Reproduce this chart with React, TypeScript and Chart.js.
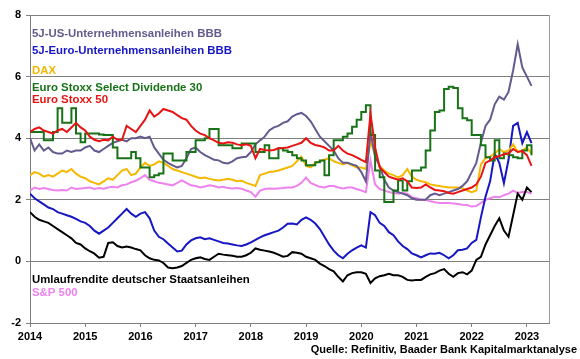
import React, { useEffect, useRef } from "react";
import { Chart, registerables } from "chart.js";
Chart.register(...registerables);

const START_YEAR = 2014;
const X_MIN = 2014;
const X_MAX = 2023.4;
const Y_MIN = -2;
const Y_MAX = 8;

// monthly values, Jan 2014 .. Feb 2023
const usBBB = [
  4.0, 3.6, 3.8, 3.6, 3.7, 3.55, 3.5, 3.5, 3.6, 3.55, 3.6, 3.6,
  3.7, 3.75, 3.6, 3.55, 3.65, 3.75, 3.85, 3.9, 3.95, 3.9, 4.0, 4.0,
  4.05, 4.0, 4.05, 3.7, 3.5, 3.3, 3.2, 3.12, 3.05, 3.1, 3.35, 3.65,
  3.7, 3.55, 3.45, 3.38, 3.3, 3.28, 3.2, 3.18, 3.25, 3.35, 3.38, 3.4,
  3.55, 3.8, 3.93, 4.05, 4.25, 4.35, 4.4, 4.5, 4.55, 4.7, 4.78, 4.82,
  4.72, 4.55, 4.3, 4.05, 3.9, 3.75, 3.6, 3.35, 3.2, 3.2, 3.15, 3.1,
  2.9, 2.6, 4.2, 3.4, 3.1, 2.65, 2.4, 2.3, 2.25, 2.2, 2.15, 2.05,
  2.0, 2.0, 2.0, 2.15, 2.2, 2.15, 2.2, 2.25, 2.3, 2.35, 2.45, 2.6,
  2.9, 3.2, 3.85, 4.4, 4.6, 5.1, 5.35, 5.25, 5.5, 6.2, 7.05, 6.3,
  6.0, 5.7,
];
const euroBBB = [
  2.2, 2.05, 1.95, 1.85, 1.75, 1.7, 1.6, 1.55, 1.5, 1.45, 1.38, 1.3,
  1.25, 1.15, 1.0, 0.9, 1.0, 1.1, 1.25, 1.4, 1.55, 1.7, 1.55, 1.45,
  1.55, 1.6, 1.4, 1.0, 0.8, 0.72, 0.58, 0.45, 0.32, 0.35, 0.55, 0.68,
  0.75, 0.78, 0.72, 0.75, 0.7, 0.65, 0.6, 0.58, 0.55, 0.52, 0.5, 0.55,
  0.62, 0.7, 0.78, 0.85, 0.9, 0.95, 1.0, 1.1, 1.22, 1.23, 1.2, 1.35,
  1.43, 1.35, 1.23, 1.05, 0.8, 0.55, 0.35, 0.2, 0.1, 0.25, 0.36, 0.45,
  0.52, 0.45, 1.6, 1.5, 1.25, 1.15, 0.95, 0.85, 0.65, 0.5, 0.4, 0.26,
  0.2, 0.13, 0.2, 0.26, 0.25, 0.28, 0.2, 0.1, 0.2, 0.36, 0.38, 0.42,
  0.6, 0.7, 1.43, 2.1, 2.6, 3.5, 3.2, 2.54, 3.3, 4.4, 4.5, 3.84,
  4.2, 3.84,
];
const dax = [
  2.8, 2.9, 2.85, 2.75, 2.8, 2.75, 2.85, 2.95, 2.9, 3.0, 2.85, 2.75,
  2.7, 2.6, 2.55, 2.5, 2.6, 2.7, 2.65, 2.8, 2.95, 3.0, 2.8, 2.85,
  3.05, 3.2, 3.1, 3.15, 3.25, 3.2, 3.1, 3.0, 2.95, 2.9, 2.85, 2.8,
  2.75, 2.7, 2.72, 2.68, 2.65, 2.63, 2.65, 2.68, 2.65, 2.6, 2.62, 2.55,
  2.5, 2.45, 2.8, 2.85, 2.9, 2.92, 2.95, 3.0, 3.05, 3.1, 3.25, 3.4,
  3.1, 3.05, 3.2, 3.25, 3.3, 3.35, 3.25, 3.2, 3.15, 3.2, 3.12, 3.05,
  3.05, 3.0, 3.9, 3.45, 3.1, 2.95, 2.85, 2.8, 2.73, 2.8, 3.0, 2.75,
  2.65, 2.6, 2.57, 2.5, 2.47, 2.45, 2.42, 2.4, 2.4, 2.4, 2.38, 2.3,
  2.25, 2.3, 3.15, 3.35, 3.4, 3.5, 3.65, 3.55, 3.6, 3.8, 3.55, 3.6,
  3.7, 3.5,
];
const selectDiv30 = [
  4.2, 4.2, 4.2, 3.93, 3.93, 4.2, 4.97, 4.5, 4.5, 4.97, 4.15, 3.87,
  4.15, 4.15, 4.15, 4.12, 4.1, 4.1, 3.7, 3.35, 3.35, 3.35, 3.55, 3.35,
  3.05, 3.05, 2.73, 2.8, 2.85, 3.5, 3.5, 3.28, 3.28, 3.28, 3.55, 3.55,
  3.93, 3.93, 4.0, 4.3, 4.3, 3.77, 3.77, 3.77, 3.67, 3.67, 3.83, 3.83,
  3.83, 3.55, 3.55, 3.77, 3.35, 3.35, 3.67, 3.6, 3.55, 3.45, 3.35, 3.28,
  3.12, 3.12, 3.22, 3.28, 2.8, 3.45, 3.93, 3.93, 4.05, 4.15, 4.37, 4.6,
  4.85, 5.07, 4.1, 2.95, 2.73, 1.93, 1.93, 2.3, 2.63, 2.3, 2.6, 2.95,
  2.95, 3.05, 3.6, 4.25, 4.85, 4.9, 5.6, 5.67, 5.63, 4.97, 4.65, 4.58,
  4.1, 4.1, 3.77, 3.38, 3.28, 3.93, 3.35, 3.5, 3.45, 3.38, 3.35, 3.6,
  3.77, 3.45,
];
const euroStoxx50 = [
  4.2, 4.3, 4.35, 4.25, 4.2, 4.15, 4.25, 4.3, 4.2, 4.35, 4.5, 4.35,
  4.25, 4.05, 3.95, 3.9, 3.95, 3.93, 4.05, 3.95, 3.95, 4.4, 4.3, 4.2,
  4.4, 4.6, 4.9, 4.7, 4.8, 4.95, 4.9, 4.85, 4.75, 4.65, 4.6, 4.4,
  4.25, 4.15, 4.1, 4.0, 3.93, 3.85, 3.83, 3.87, 3.85, 3.8, 3.77, 3.8,
  3.75, 3.35, 3.65, 3.62, 3.6, 3.62, 3.67, 3.68, 3.7, 3.75, 3.8, 3.85,
  4.0, 3.85, 3.78, 3.75, 3.7, 3.6, 3.6, 3.75, 3.6, 3.5, 3.45, 3.38,
  3.3, 3.22, 4.8, 3.7, 3.05, 2.9, 2.75, 2.7, 2.65, 2.7, 2.6, 2.4,
  2.38, 2.4, 2.5, 2.4, 2.32, 2.3, 2.28, 2.22, 2.2, 2.25, 2.3, 2.35,
  2.4, 2.5, 2.75, 3.2, 3.28, 3.38, 3.42, 3.48, 3.5, 3.65, 3.55, 3.58,
  3.45, 3.1,
];
const umlaufrendite = [
  1.6, 1.45, 1.35, 1.3, 1.25, 1.15, 1.05, 0.95, 0.85, 0.75, 0.6, 0.55,
  0.42, 0.33, 0.25, 0.12, 0.15, 0.6, 0.62, 0.5, 0.45, 0.48, 0.45, 0.4,
  0.36, 0.2, 0.1, 0.05, 0.03, -0.05, -0.2, -0.22, -0.2, -0.15, -0.05, 0.05,
  0.1, 0.13, 0.08, 0.05, 0.15, 0.25, 0.22, 0.2, 0.18, 0.15, 0.15, 0.2,
  0.28, 0.42, 0.38, 0.35, 0.32, 0.28, 0.22, 0.15, 0.18, 0.3, 0.28, 0.25,
  0.15, 0.1, 0.05, -0.07, -0.15, -0.25, -0.32, -0.5, -0.65, -0.45, -0.38, -0.35,
  -0.35, -0.4, -0.7, -0.55, -0.48, -0.45, -0.4, -0.45, -0.45, -0.5, -0.6, -0.62,
  -0.6, -0.6, -0.5, -0.42, -0.38, -0.3, -0.25, -0.4, -0.5, -0.38, -0.35, -0.42,
  -0.3, 0.05, 0.15, 0.55, 0.85, 1.15, 1.4, 1.0, 0.8, 1.5, 2.2, 2.0,
  2.4, 2.25,
];
const sp500 = [
  2.3, 2.4, 2.35, 2.38, 2.35, 2.32, 2.3, 2.32, 2.3, 2.4, 2.35, 2.37,
  2.38, 2.4, 2.35, 2.38, 2.36, 2.4, 2.42, 2.4, 2.47, 2.5, 2.57, 2.62,
  2.7, 2.8, 2.65, 2.6, 2.55, 2.53, 2.5, 2.47, 2.55, 2.63, 2.55, 2.47,
  2.45, 2.4, 2.43, 2.47, 2.45, 2.4, 2.42, 2.38, 2.37, 2.38, 2.36, 2.3,
  2.25, 2.1, 2.3, 2.35, 2.37, 2.36, 2.37, 2.38, 2.4, 2.4, 2.45, 2.55,
  2.72, 2.55, 2.48, 2.42, 2.4, 2.45, 2.45, 2.4, 2.37, 2.4, 2.4, 2.35,
  2.3, 2.25, 3.28, 2.5, 2.35, 2.3, 2.25, 2.22, 2.2, 2.22, 2.2, 2.08,
  2.05, 2.0, 2.0, 1.95, 1.92, 1.9, 1.9, 1.9, 1.88, 1.86, 1.84, 1.83,
  1.78, 1.8, 1.9, 2.0, 2.05, 2.1, 2.08, 2.15, 2.2, 2.3, 2.22, 2.25,
  2.25, 2.2,
];

const seriesNames = [
  "5J-US-Unternehmensanleihen BBB",
  "5J-Euro-Unternehmensanleihen BBB",
  "DAX",
  "Euro Stoxx Select Dividende 30",
  "Euro Stoxx 50",
  "Umlaufrendite deutscher Staatsanleihen",
  "S&P 500",
];
const seriesColors = ["#655a8e", "#1616c4", "#f5b800", "#187318", "#e81414", "#000000", "#ee82ee"];
const sourceText = "Quelle: Refinitiv, Baader Bank Kapitalmarktanalyse";

const FONT = 'Arial, "Liberation Sans", sans-serif';

const toPoints = (arr: number[]) => arr.map((v, i) => ({ x: START_YEAR + i / 12, y: v }));

const labelsPlugin = {
  id: "inlineLabels",
  afterDraw(chart: any) {
    const { ctx, chartArea } = chart;
    ctx.save();
    ctx.strokeStyle = "#999999";
    ctx.lineWidth = 1;
    ctx.beginPath();
    ctx.moveTo(Math.round(chartArea.right) + 0.5, chartArea.top);
    ctx.lineTo(Math.round(chartArea.right) + 0.5, chartArea.bottom);
    ctx.stroke();

    ctx.font = `bold 11.4px ${FONT}`;
    ctx.textBaseline = "middle";
    ctx.textAlign = "left";
    const ys = [34, 51, 71, 87.5, 99.5, 279.5, 292.5];
    seriesNames.forEach((n, i) => {
      ctx.fillStyle = seriesColors[i];
      ctx.fillText(n, 32, ys[i]);
    });
    ctx.fillStyle = "#000";
    ctx.font = `bold 11px ${FONT}`;
    ctx.textAlign = "right";
    ctx.fillText(sourceText, 577, 350);
    ctx.restore();
  },
};

export default function App() {
  const ref = useRef<HTMLCanvasElement>(null);
  useEffect(() => {
    document.body.style.margin = "0";
    const canvas = ref.current!;
    const mk = (idx: number, arr: number[], extra: any = {}) => ({
      label: seriesNames[idx],
      data: toPoints(arr),
      borderColor: seriesColors[idx],
      backgroundColor: seriesColors[idx],
      borderWidth: 2,
      pointRadius: 0,
      fill: false,
      tension: 0,
      ...extra,
    });
    const chart = new Chart(canvas, {
      type: "line",
      data: {
        datasets: [
          mk(4, euroStoxx50),
          mk(3, selectDiv30, { stepped: true }),
          mk(0, usBBB),
          mk(2, dax),
          mk(1, euroBBB),
          mk(5, umlaufrendite),
          mk(6, sp500),
        ],
      },
      options: {
        responsive: false,
        animation: false,
        layout: { padding: { left: 0, right: 31, top: 15, bottom: 0 } },
        plugins: { legend: { display: false }, tooltip: { enabled: false } },
        scales: {
          x: {
            type: "linear",
            min: X_MIN,
            max: X_MAX,
            afterFit: (s: any) => {
              s.height = 36;
            },
            ticks: {
              stepSize: 1,
              includeBounds: false,
              autoSkip: false,
              maxRotation: 0,
              padding: 3,
              color: "#000",
              font: { family: FONT, size: 11, weight: "bold" },
              callback: (v: any) => (Number.isInteger(v) ? String(v) : ""),
            },
            grid: { drawOnChartArea: false, drawTicks: true, tickLength: 4, color: "#808080" },
            border: { display: true, color: "#808080" },
          },
          y: {
            min: Y_MIN,
            max: Y_MAX,
            afterFit: (s: any) => {
              s.width = 30;
            },
            ticks: {
              stepSize: 2,
              padding: 5,
              color: "#000",
              font: { family: FONT, size: 11, weight: "bold" },
            },
            grid: { color: "#808080", tickLength: 4, lineWidth: 1 },
            border: { display: true, color: "#808080" },
          },
        },
      },
      plugins: [labelsPlugin],
    } as any);
    return () => chart.destroy();
  }, []);
  return (
    <div style={{ position: "absolute", left: 0, top: 0, width: 580, height: 359 }}>
      <canvas ref={ref} width={580} height={359} style={{ display: "block" }} />
    </div>
  );
}
